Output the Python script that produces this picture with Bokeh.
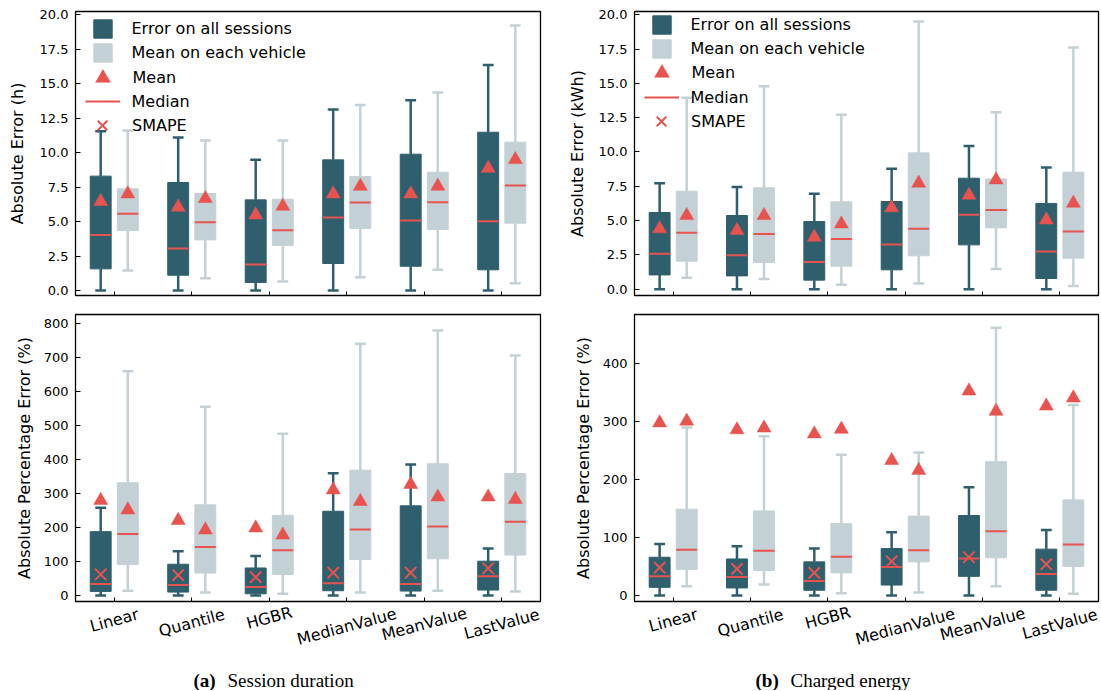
import math
from bokeh.plotting import figure
from bokeh.layouts import column, row
from bokeh.models import (Range1d, FixedTicker, PrintfTickFormatter, Legend, LegendItem,
                          ColumnDataSource)
from bokeh.core.properties import value
from bokeh.embed import file_html
from bokeh.resources import INLINE

# ---------------- data ----------------
models = ["Linear", "Quantile", "HGBR", "MedianValue", "MeanValue", "LastValue"]

# (a) Session duration - Absolute Error (h) - error on all sessions
dur_ae_all_lo = [0, 0, 0, 0, 0, 0]
dur_ae_all_q1 = [1.57, 1.11, 0.58, 1.96, 1.76, 1.50]
dur_ae_all_med = [4.03, 3.04, 1.88, 5.29, 5.07, 5.02]
dur_ae_all_q3 = [8.29, 7.83, 6.57, 9.47, 9.88, 11.47]
dur_ae_all_hi = [11.55, 11.09, 9.47, 13.12, 13.79, 16.35]
dur_ae_all_mean = [6.45, 6.04, 5.48, 7.00, 7.00, 8.86]
# mean on each vehicle
dur_ae_veh_lo = [1.45, 0.89, 0.65, 0.97, 1.50, 0.53]
dur_ae_veh_q1 = [4.35, 3.67, 3.26, 4.49, 4.42, 4.88]
dur_ae_veh_med = [5.56, 4.95, 4.37, 6.38, 6.40, 7.61]
dur_ae_veh_q3 = [7.37, 7.03, 6.62, 8.26, 8.57, 10.75]
dur_ae_veh_hi = [11.60, 10.87, 10.87, 13.45, 14.35, 19.20]
dur_ae_veh_mean = [7.00, 6.67, 6.11, 7.56, 7.56, 9.49]

# (a) Session duration - Absolute Percentage Error (%)
dur_ape_all_lo = [0, 0, 0, 0, 0, 0]
dur_ape_all_q1 = [12, 10, 5, 14, 13, 16]
dur_ape_all_med = [34, 31, 25, 36, 34, 57]
dur_ape_all_q3 = [188, 92, 81, 248, 264, 101]
dur_ape_all_hi = [258, 130, 116, 360, 386, 138]
dur_ape_all_mean = [280, 221, 199, 311, 327, 290]
dur_ape_all_smape = [62, 60, 54, 67, 67, 80]
dur_ape_veh_lo = [14, 9, 5, 9, 14, 12]
dur_ape_veh_q1 = [91, 66, 62, 106, 108, 119]
dur_ape_veh_med = [181, 143, 133, 194, 203, 217]
dur_ape_veh_q3 = [332, 267, 236, 369, 388, 359]
dur_ape_veh_hi = [660, 556, 476, 741, 780, 707]
dur_ape_veh_mean = [252, 193, 178, 277, 290, 283]

# (b) Charged energy - Absolute Error (kWh)
eng_ae_all_lo = [0, 0, 0, 0, 0, 0]
eng_ae_all_q1 = [1.04, 0.97, 0.66, 1.41, 3.23, 0.78]
eng_ae_all_med = [2.58, 2.48, 1.99, 3.26, 5.42, 2.75]
eng_ae_all_q3 = [5.59, 5.37, 4.93, 6.39, 8.09, 6.25]
eng_ae_all_hi = [7.73, 7.44, 6.95, 8.77, 10.43, 8.87]
eng_ae_all_mean = [4.40, 4.28, 3.79, 5.93, 6.85, 5.05]
eng_ae_veh_lo = [0.83, 0.75, 0.32, 0.41, 1.48, 0.24]
eng_ae_veh_q1 = [2.04, 1.94, 1.68, 2.43, 4.47, 2.26]
eng_ae_veh_med = [4.11, 4.03, 3.65, 4.40, 5.78, 4.20]
eng_ae_veh_q3 = [7.14, 7.39, 6.37, 9.94, 8.04, 8.53]
eng_ae_veh_hi = [13.95, 14.80, 12.71, 19.51, 12.90, 17.62]
eng_ae_veh_mean = [5.37, 5.37, 4.76, 7.73, 7.97, 6.27]

# (b) Charged energy - Absolute Percentage Error (%)
eng_ape_all_lo = [0, 0, 0, 0, 0, 0]
eng_ape_all_q1 = [14, 13, 9, 18, 33, 9]
eng_ape_all_med = [33, 32, 25, 49, 64, 37]
eng_ape_all_q3 = [66, 63, 58, 81, 138, 80]
eng_ape_all_hi = [89, 85, 81, 109, 187, 113]
eng_ape_all_mean = [298, 286, 279, 233, 353, 327]
eng_ape_all_smape = [48, 46, 39, 59, 66, 54]
eng_ape_veh_lo = [16, 19, 4, 5, 16, 3]
eng_ape_veh_q1 = [45, 43, 39, 58, 65, 50]
eng_ape_veh_med = [79, 77, 67, 78, 111, 88]
eng_ape_veh_q3 = [149, 146, 124, 137, 231, 165]
eng_ape_veh_hi = [290, 275, 243, 247, 462, 329]
eng_ape_veh_mean = [301, 289, 287, 216, 318, 341]

ae_ticks = [0, 2.5, 5, 7.5, 10, 12.5, 15, 17.5, 20]
dur_ape_ticks = [0, 100, 200, 300, 400, 500, 600, 700, 800]
eng_ape_ticks = [0, 100, 200, 300, 400]

legend_labels = ["Error on all sessions", "Mean on each vehicle", "Mean", "Median", "SMAPE"]
captions = [("(a)", "Session duration"), ("(b)", "Charged energy")]

# ---------------- style ----------------
DARK = "#2F5F6D"
LIGHT = "#C3D1D6"
RED = "#E8524F"
FONT_NAME = "DejaVu Sans"
FONT = value(FONT_NAME)
BW = 0.27      # box width
CAP = 0.14     # whisker cap width
OFF = 0.175    # offset of each box from category tick

# layout (pixels)
LW, LBL, LBR = 465, 75, 14     # left column: frame width, left/right border
RW, RBL, RBR = 464, 80, 3      # right column
TOP_FH, TOP_BT, TOP_BB = 284, 11, 9
BOT_FH, BOT_BT, BOT_BB = 287, 10, 2
STRIP_H = 50
CAP_H = 37


def make_fig(x_range, ylim, ticks, fmt, ylabel, fw, fh, bl, bt, bb, br, lab_standoff):
    p = figure(x_range=x_range, y_range=Range1d(*ylim),
               width=bl + fw + br, height=bt + fh + bb,
               min_border_left=bl, min_border_top=bt, min_border_bottom=bb, min_border_right=br,
               output_backend="svg", toolbar_location=None)
    p.grid.visible = False
    p.outline_line_color = "black"
    p.outline_line_width = 1.3
    p.background_fill_color = "white"
    p.border_fill_color = "white"
    xa = p.xaxis[0]
    xa.ticker = FixedTicker(ticks=list(range(len(models))))
    xa.major_label_overrides = {i: "" for i in range(len(models))}
    xa.major_label_text_font_size = "0px"
    xa.major_label_standoff = 0
    xa.major_tick_in = 4
    xa.major_tick_out = 0
    xa.major_tick_line_color = "black"
    xa.minor_tick_line_color = None
    xa.axis_line_color = None
    ya = p.yaxis[0]
    ya.ticker = FixedTicker(ticks=ticks)
    ya.formatter = PrintfTickFormatter(format=fmt)
    ya.major_tick_in = 5
    ya.major_tick_out = 0
    ya.major_tick_line_color = "black"
    ya.minor_tick_line_color = None
    ya.axis_line_color = None
    ya.major_label_standoff = 7
    ya.major_label_text_font = FONT_NAME
    ya.major_label_text_font_size = "13px"
    ya.major_label_text_color = "black"
    ya.axis_label = ylabel
    ya.axis_label_text_font = FONT_NAME
    ya.axis_label_text_font_size = "16px"
    ya.axis_label_text_font_style = "normal"
    ya.axis_label_text_color = "black"
    ya.axis_label_standoff = lab_standoff
    return p


def draw_series(p, lo, q1, med, q3, hi, dx, color):
    xs = [i + dx for i in range(len(models))]
    src = ColumnDataSource(dict(
        x=xs, lo=lo, q1=q1, med=med, q3=q3, hi=hi,
        cl=[x - CAP / 2 for x in xs], cr=[x + CAP / 2 for x in xs],
        bl=[x - BW / 2 for x in xs], br=[x + BW / 2 for x in xs]))
    kw = dict(source=src, line_color=color, line_width=2.5, line_cap="butt")
    p.segment(x0="x", y0="q3", x1="x", y1="hi", **kw)
    p.segment(x0="x", y0="lo", x1="x", y1="q1", **kw)
    p.segment(x0="cl", y0="hi", x1="cr", y1="hi", **kw)
    p.segment(x0="cl", y0="lo", x1="cr", y1="lo", **kw)
    box = p.vbar(x="x", width=BW, bottom="q1", top="q3", source=src,
                 fill_color=color, line_color=color, line_width=1)
    return src, box


def build_panel(p, fh, all_stats, veh_stats, smape, legend_rows=None):
    src_a, box_a = draw_series(p, *all_stats[:5], -OFF, DARK)
    src_v, box_v = draw_series(p, *veh_stats[:5], OFF, LIGHT)
    med_r = None
    for src in (src_a, src_v):
        med_r = p.segment(x0="bl", y0="med", x1="br", y1="med", source=src,
                          line_color=RED, line_width=2)
    xs_a = [i - OFF for i in range(len(models))]
    xs_v = [i + OFF for i in range(len(models))]
    mean_r = p.scatter(x=xs_a, y=all_stats[5], marker="triangle", size=14,
                       fill_color=RED, line_color=RED, line_width=0.5)
    p.scatter(x=xs_v, y=veh_stats[5], marker="triangle", size=14,
              fill_color=RED, line_color=RED, line_width=0.5)
    if smape is not None:
        smape_r = p.scatter(x=xs_a, y=smape, marker="x", size=16,
                            line_color=RED, line_width=2)
    else:
        smape_r = p.scatter(x=[float("nan")], y=[float("nan")], marker="x", size=16,
                            line_color=RED, line_width=2)
    if legend_rows is not None:
        # (renderer, glyph w, glyph h, label standoff)
        spec = [(box_a, 23, 23, 18), (box_v, 23, 23, 18), (mean_r, 37, 37, 12),
                (med_r, 35, 24, 12), (smape_r, 34, 34, 13)]
        for lab, (r, gw, gh, so), c in zip(legend_labels, spec, legend_rows):
            lg = Legend(items=[LegendItem(label=lab, renderers=[r])],
                        location=(27 - gw / 2, fh - c - gh / 2),
                        glyph_width=gw, glyph_height=gh, label_standoff=so,
                        padding=0, margin=0, spacing=0, label_height=16,
                        border_line_alpha=0, background_fill_alpha=0,
                        label_text_font=FONT_NAME, label_text_font_size="16px",
                        label_text_color="black")
            p.add_layout(lg)


def make_strip(x_range, fw, bl, br):
    s = figure(x_range=x_range, y_range=Range1d(0, STRIP_H), width=bl + fw + br, height=STRIP_H,
               min_border_left=bl, min_border_right=br, min_border_top=0, min_border_bottom=0,
               x_axis_type=None, y_axis_type=None, output_backend="svg", toolbar_location=None)
    s.outline_line_color = None
    s.grid.visible = False
    s15 = math.sin(math.radians(15))
    c15 = math.cos(math.radians(15))
    # centre of each rotated label: 4.5 px below the frame plus half its rotated height
    ys = [STRIP_H + BOT_BB - (4.5 + (0.6 * 16 * len(m) * s15 + 14 * c15) / 2) for m in models]
    s.text(x=list(range(len(models))), y=ys, text=models, angle=math.radians(15),
           text_align="center", text_baseline="middle", text_font=FONT,
           text_font_size="16px", text_color="black")
    return s


# ---------------- panels ----------------
xr_left = Range1d(-0.5, 5.5)
xr_right = Range1d(-0.5, 5.5)

p1 = make_fig(xr_left, (-0.36, 20.22), ae_ticks, "%.1f", "Absolute Error (h)",
              LW, TOP_FH, LBL, TOP_BT, TOP_BB, LBR, 10)
build_panel(p1, TOP_FH,
            [dur_ae_all_lo, dur_ae_all_q1, dur_ae_all_med, dur_ae_all_q3, dur_ae_all_hi, dur_ae_all_mean],
            [dur_ae_veh_lo, dur_ae_veh_q1, dur_ae_veh_med, dur_ae_veh_q3, dur_ae_veh_hi, dur_ae_veh_mean],
            None, legend_rows=[17, 41, 66, 90, 114])

p2 = make_fig(xr_right, (-0.46, 20.24), ae_ticks, "%.1f", "Absolute Error (kWh)",
              RW, TOP_FH, RBL, TOP_BT, TOP_BB, RBR, 9)
build_panel(p2, TOP_FH,
            [eng_ae_all_lo, eng_ae_all_q1, eng_ae_all_med, eng_ae_all_q3, eng_ae_all_hi, eng_ae_all_mean],
            [eng_ae_veh_lo, eng_ae_veh_q1, eng_ae_veh_med, eng_ae_veh_q3, eng_ae_veh_hi, eng_ae_veh_mean],
            None, legend_rows=[13, 37, 61, 86, 110])

p3 = make_fig(xr_left, (-17.7, 827.4), dur_ape_ticks, "%d", "Absolute Percentage Error (%)",
              LW, BOT_FH, LBL, BOT_BT, BOT_BB, LBR, 7)
build_panel(p3, BOT_FH,
            [dur_ape_all_lo, dur_ape_all_q1, dur_ape_all_med, dur_ape_all_q3, dur_ape_all_hi, dur_ape_all_mean],
            [dur_ape_veh_lo, dur_ape_veh_q1, dur_ape_veh_med, dur_ape_veh_q3, dur_ape_veh_hi, dur_ape_veh_mean],
            dur_ape_all_smape)

p4 = make_fig(xr_right, (-10.4, 485), eng_ape_ticks, "%d", "Absolute Percentage Error (%)",
              RW, BOT_FH, RBL, BOT_BT, BOT_BB, RBR, 7)
build_panel(p4, BOT_FH,
            [eng_ape_all_lo, eng_ape_all_q1, eng_ape_all_med, eng_ape_all_q3, eng_ape_all_hi, eng_ape_all_mean],
            [eng_ape_veh_lo, eng_ape_veh_q1, eng_ape_veh_med, eng_ape_veh_q3, eng_ape_veh_hi, eng_ape_veh_mean],
            eng_ape_all_smape)

s3 = make_strip(xr_left, LW, LBL, LBR)
s4 = make_strip(xr_right, RW, RBL, RBR)

# ---------------- captions ----------------
TOTAL_W = LBL + LW + LBR + RBL + RW + RBR
cap = figure(x_range=Range1d(0, TOTAL_W), y_range=Range1d(0, CAP_H), width=TOTAL_W,
             height=CAP_H, min_border=0, x_axis_type=None, y_axis_type=None,
             output_backend="svg", toolbar_location=None)
cap.outline_line_color = None
cap.grid.visible = False
SERIF = value("Liberation Serif")
cap_x = [(193, 227), (755, 790)]
for (tag, txt), (xa, xb) in zip(captions, cap_x):
    cap.text(x=[xa], y=[10], text=[tag], text_font=SERIF, text_font_style="bold",
             text_font_size="19px", text_align="left", text_baseline="alphabetic",
             text_color="black")
    cap.text(x=[xb], y=[10], text=[txt], text_font=SERIF, text_font_style="normal",
             text_font_size="19px", text_align="left", text_baseline="alphabetic",
             text_color="black")

layout = column(row(p1, p2), row(p3, p4), row(s3, s4), cap)
open("out.html", "w").write(file_html(layout, INLINE))
